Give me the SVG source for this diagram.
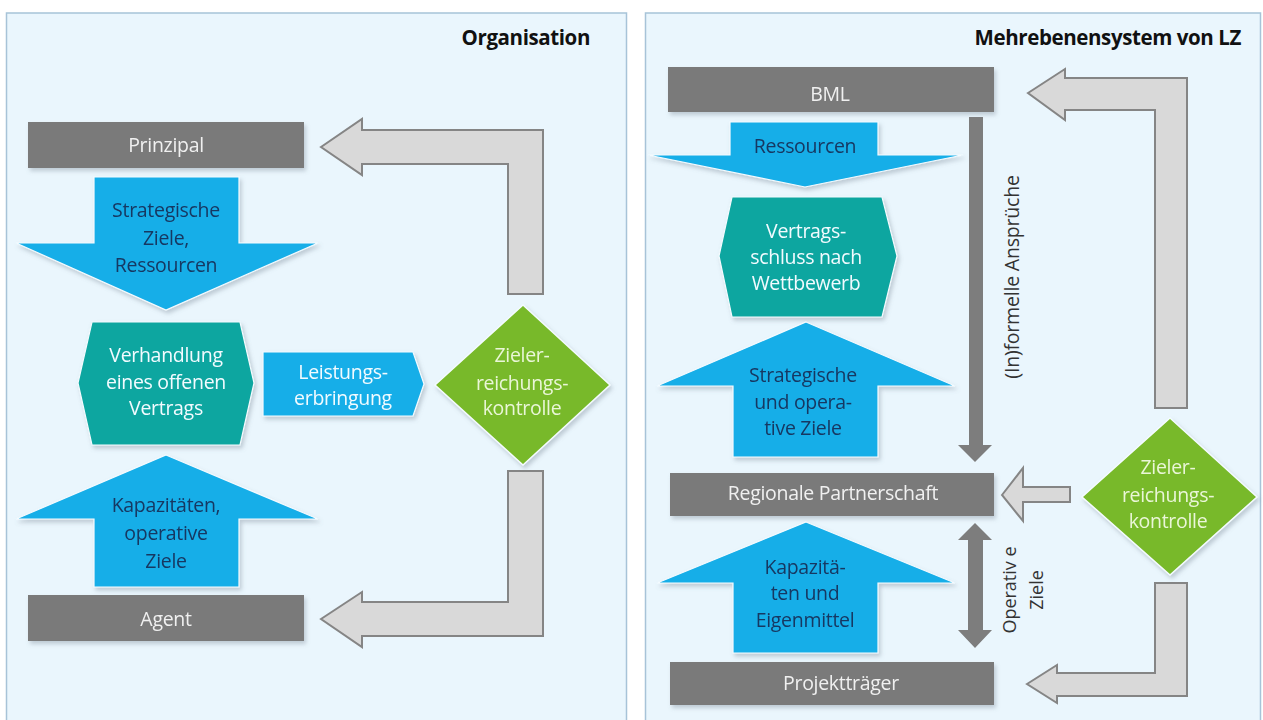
<svg xmlns="http://www.w3.org/2000/svg" width="1263" height="720" viewBox="0 0 1263 720">
<style>
.panel{fill:#eaf6fd;stroke:#a7c3d8;stroke-width:1.5}
.title{font-family:"Open Sans","Liberation Sans",sans-serif;font-weight:bold;font-size:20.5px;fill:#111;text-anchor:end;letter-spacing:-0.4px}
.box{fill:#7a7a7a}
.boxt{font-family:"Open Sans","Liberation Sans",sans-serif;font-size:19.5px;fill:#f0f0f0;text-anchor:middle;letter-spacing:-0.3px}
.blue{fill:#19aee8;stroke:#f4fbff;stroke-width:1.2}
.bluet{font-family:"Open Sans","Liberation Sans",sans-serif;font-size:19.5px;fill:#143862;text-anchor:middle;letter-spacing:-0.3px}
.whitet{font-family:"Open Sans","Liberation Sans",sans-serif;font-size:19.5px;fill:#f2fbff;text-anchor:middle;letter-spacing:-0.3px}
.teal{fill:#10a6a0;stroke:#f4fbff;stroke-width:1.2}
.green{fill:#78b929;stroke:#f4fbff;stroke-width:1.5}
.greent{font-family:"Open Sans","Liberation Sans",sans-serif;font-size:19.5px;fill:#eaf6d8;text-anchor:middle;letter-spacing:-0.3px}
.bent{fill:#d9d9d9;stroke:#858585;stroke-width:2}
.dark{fill:#7d7d7d}
.vt{font-family:"Open Sans","Liberation Sans",sans-serif;font-size:19.5px;fill:#333;text-anchor:middle;letter-spacing:-0.2px}
.vt2{font-family:"Open Sans","Liberation Sans",sans-serif;font-size:18px;fill:#333;text-anchor:middle}
</style>
<defs>
<filter id="sh" x="-10%" y="-10%" width="125%" height="130%">
<feDropShadow dx="2" dy="3" stdDeviation="2" flood-color="#6a7a88" flood-opacity="0.35"/>
</filter>
</defs>
<rect width="1263" height="720" fill="#ffffff"/>
<rect class="panel" x="6.5" y="13" width="620" height="712"/>
<rect class="panel" x="645.5" y="13" width="615" height="712"/>
<text class="title" x="590" y="45">Organisation</text>
<text class="title" x="1241" y="45">Mehrebenensystem von LZ</text>

<g id="connectors">
<path class="bent" d="M321,147 L362,119 V130 H543 V294 H508 V164 H362 V175 Z"/>
<path class="bent" d="M321,619 L362,592 V602 H508 V471 H543 V636 H362 V647 Z"/>
<path class="bent" d="M1028,93 L1065,69 V78 H1187 V408 H1155 V110 H1065 V120 Z"/>
<path class="bent" d="M1027,684 L1057,665 V673 H1155 V583 H1187 V696 H1057 V703 Z"/>
<path class="bent" d="M1002,495 L1023,468 V487 H1070 V502 H1023 V521 Z"/>
<path class="dark" d="M969,117 H983 V445 H992 L975,462 L958,445 H969 Z"/>
<path class="dark" d="M975,523 L992,540 H983 V630 H992 L975,648 L958,630 H968 V540 H958 Z"/>
<text class="vt" transform="translate(1019,277) rotate(-90)">(In)formelle Ansprüche</text>
<text class="vt2" transform="translate(1016,590) rotate(-90)">Operativ e</text>
<text class="vt2" transform="translate(1043,590) rotate(-90)">Ziele</text>
</g>

<g id="prinzipal" filter="url(#sh)">
<rect class="box" x="28" y="122" width="276" height="46"/>
<text class="boxt" x="166" y="152">Prinzipal</text>
</g>
<g id="arrow-strategische" filter="url(#sh)">
<polygon class="blue" points="94,177 239,177 239,243 318,243 166,310 16,243 94,243"/>
<text class="bluet" x="166" y="217">Strategische</text>
<text class="bluet" x="166" y="245">Ziele,</text>
<text class="bluet" x="166" y="272">Ressourcen</text>
</g>
<g id="verhandlung" filter="url(#sh)">
<polygon class="teal" points="92,322 240,322 254,383 240,445 92,445 78,383"/>
<text class="whitet" x="166" y="362">Verhandlung</text>
<text class="whitet" x="166" y="389">eines offenen</text>
<text class="whitet" x="166" y="415">Vertrags</text>
</g>
<g id="leistung" filter="url(#sh)">
<polygon class="blue" points="263,352 413,352 424,384 413,416 263,416"/>
<text class="whitet" x="343" y="379">Leistungs-</text>
<text class="whitet" x="343" y="405">erbringung</text>
</g>
<g id="kontrolle-left" filter="url(#sh)">
<polygon class="green" points="523,305 610,385 523,465 435,385"/>
<text class="greent" x="522" y="362">Zieler-</text>
<text class="greent" x="522" y="390">reichungs-</text>
<text class="greent" x="522" y="415">kontrolle</text>
</g>
<g id="arrow-kapazitaeten" filter="url(#sh)">
<polygon class="blue" points="166,455 318,519 239,519 239,587 94,587 94,519 16,519"/>
<text class="bluet" x="166" y="512">Kapazitäten,</text>
<text class="bluet" x="166" y="540">operative</text>
<text class="bluet" x="166" y="568">Ziele</text>
</g>
<g id="agent" filter="url(#sh)">
<rect class="box" x="28" y="595" width="276" height="46"/>
<text class="boxt" x="166" y="626">Agent</text>
</g>

<g id="bml" filter="url(#sh)">
<rect class="box" x="668" y="67" width="326" height="45"/>
<text class="boxt" x="830" y="101">BML</text>
</g>
<g id="arrow-ressourcen" filter="url(#sh)">
<polygon class="blue" points="730,122 878,122 878,155 963,155 805,187 648,155 730,155"/>
<text class="bluet" x="805" y="153">Ressourcen</text>
</g>
<g id="vertragsschluss" filter="url(#sh)">
<polygon class="teal" points="732,197 882,197 897,256 882,317 732,317 719,256"/>
<text class="whitet" x="806" y="238">Vertrags-</text>
<text class="whitet" x="806" y="264">schluss nach</text>
<text class="whitet" x="806" y="290">Wettbewerb</text>
</g>
<g id="arrow-strategische-operative" filter="url(#sh)">
<polygon class="blue" points="806,322 955,386 878,386 878,457 733,457 733,386 657,386"/>
<text class="bluet" x="803" y="382">Strategische</text>
<text class="bluet" x="803" y="409">und  opera-</text>
<text class="bluet" x="803" y="435">tive Ziele</text>
</g>
<g id="regionale" filter="url(#sh)">
<rect class="box" x="670" y="473" width="324" height="43"/>
<text class="boxt" x="833" y="500">Regionale Partnerschaft</text>
</g>
<g id="kontrolle-right" filter="url(#sh)">
<polygon class="green" points="1170,418 1257,497 1170,575 1082,497"/>
<text class="greent" x="1168" y="474">Zieler-</text>
<text class="greent" x="1168" y="502">reichungs-</text>
<text class="greent" x="1168" y="528">kontrolle</text>
</g>
<g id="arrow-kapazitaeten-eigenmittel" filter="url(#sh)">
<polygon class="blue" points="806,522 955,583 878,583 878,653 733,653 733,583 657,583"/>
<text class="bluet" x="805" y="574">Kapazitä-</text>
<text class="bluet" x="805" y="600">ten und</text>
<text class="bluet" x="805" y="627">Eigenmittel</text>
</g>
<g id="projekttraeger" filter="url(#sh)">
<rect class="box" x="670" y="662" width="324" height="43"/>
<text class="boxt" x="841" y="690">Projektträger</text>
</g>
</svg>
